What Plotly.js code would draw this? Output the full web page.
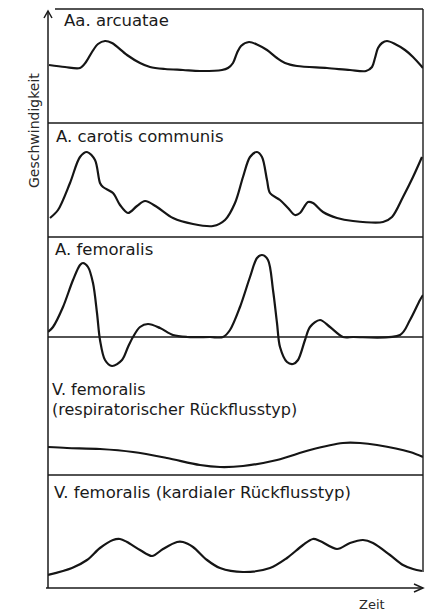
<!DOCTYPE html>
<html>
<head>
<meta charset="utf-8">
<script src="https://cdn.plot.ly/plotly-3.0.1.min.js"></script>
<style>html,body{margin:0;padding:0;background:#fff;}#chart{width:427px;height:612px;}</style>
</head>
<body>
<div id="chart"></div>
<script>
// Panel titles and axis labels
const panelTitles = ["Aa. arcuatae", "A. carotis communis", "A. femoralis", "V. femoralis", "(respiratorischer Rückflusstyp)", "V. femoralis (kardialer Rückflusstyp)"];
const yLabel = "Geschwindigkeit";
const xLabel = "Zeit";

// Aa. arcuatae (time, velocity in arbitrary units)
const arcT = [1,17,32,38,44,50,57,64,79,92,102,117,135,152,174,180,185,189,193,201,210,219,229,237,249,279,302,318,324,327,330,334,339,347,357,365,375];
const arcV = [58,56,55,61,71,79,82,80,68,60,56,54,53,52,53,55,60,70,77,81,78,73,65,60,57,55,53,52,56,65,75,80,82,79,73,66,55];

// A. carotis communis
const carT = [2,10,22,32,39,47,52,55,65,72,80,89,97,109,125,145,165,177,187,195,202,209,214,219,222,232,240,247,252,260,265,275,289,305,335,344,355,365,374];
const carV = [19,27,54,80,85,77,54,50,44,32,24,31,36,30,19,13,11,17,34,60,80,85,80,57,44,37,29,22,24,35,34,25,19,16,15,20,40,60,80];

// A. femoralis (velocity relative to zero line, negative = backflow)
const femT = [0,5,15,25,32,35,40,45,49,52,57,64,74,80,85,92,100,112,125,139,162,175,182,192,202,209,214,220,225,229,232,239,245,250,257,262,272,282,295,305,352,362,372,375];
const femV = [5,10,30,57,72,74,70,54,24,-3,-23,-29,-23,-10,0,10,13,9,2,0,0,0,7,30,60,79,82,77,47,14,-10,-25,-27,-23,-3,10,17,10,0,0,2,17,37,42];

// V. femoralis (respiratorischer Rückflusstyp)
const vResT = [0,19,52,85,119,152,172,195,229,262,295,312,329,362,375];
const vResV = [28,27,26,23,17,10,8,9,15,25,32,32,30,23,18];

// V. femoralis (kardialer Rückflusstyp)
const vKarT = [0,24,39,52,65,72,79,92,104,115,129,135,145,159,172,195,222,239,255,265,272,289,302,315,325,342,355,365,374];
const vKarV = [13,20,28,40,48,49,46,38,32,39,46,46,41,28,20,16,20,30,43,49,47,39,45,48,45,33,23,19,17];

const lineStyle = {color: "#151515", width: 2.2, shape: "spline", smoothing: 0.9};
function tr(x, y, ax) {
  return {x: x, y: y, xaxis: "x", yaxis: ax, mode: "lines", line: lineStyle, hoverinfo: "skip", showlegend: false};
}
const data = [
  tr(arcT, arcV, "y5"),
  tr(carT, carV, "y4"),
  tr(femT, femV, "y3"),
  tr(vResT, vResV, "y2"),
  tr(vKarT, vKarV, "y")
];

const H = 579, W = 375;
const py = p => (588 - p) / H;      // pixel row -> paper y
const pxp = p => (p - 48) / W;      // pixel col -> paper x
const hid = {visible: false, showgrid: false, zeroline: false, fixedrange: true};
const frame = {color: "#1a1a1a", width: 1.5};
function hline(y, x0, x1, w) {
  return {type: "line", xref: "paper", yref: "paper", x0: x0, x1: x1, y0: y, y1: y, line: {color: "#1a1a1a", width: w || 1.3}};
}
const shapes = [
  {type: "line", xref: "paper", yref: "paper", x0: 0, x1: 0, y0: 0, y1: py(11), line: frame},
  {type: "path", xref: "paper", yref: "paper", path: `M ${pxp(44)},${py(18)} L 0,${py(11)} L ${pxp(52)},${py(18)}`, line: frame},
  hline(1, pxp(55), 1, 1.4),
  {type: "line", xref: "paper", yref: "paper", x0: 1, x1: 1, y0: py(572), y1: 1, line: {color: "#1a1a1a", width: 1.4}},
  hline(py(123), 0, 1),
  hline(py(237), 0, 1),
  hline(py(337), 0, 1),
  hline(py(475), 0, 1),
  hline(0, pxp(46), 1, 1.5),
  {type: "path", xref: "paper", yref: "paper", path: `M ${pxp(414)},${py(584)} L 1,${py(588)} L ${pxp(414)},${py(592)}`, line: frame}
];

const tf = {family: "DejaVu Sans", size: 16.5, color: "#1a1a1a"};
function title(text, x, yc, size) {
  const f = Object.assign({}, tf);
  if (size) f.size = size;
  return {text: text, xref: "paper", yref: "paper", x: pxp(x), y: py(yc), xanchor: "left", yanchor: "middle", showarrow: false, font: f, borderpad: 0};
}
const annotations = [
  title(panelTitles[0], 63, 21),
  title(panelTitles[1], 55, 136.5),
  title(panelTitles[2], 54, 249),
  title(panelTitles[3], 51, 389.5, 16),
  title(panelTitles[4], 51, 410, 16),
  title(panelTitles[5], 53, 492),
  {text: yLabel, xref: "paper", yref: "paper", x: pxp(34), y: py(131), xanchor: "center", yanchor: "middle", textangle: -90, showarrow: false, font: {family: "DejaVu Sans", size: 14, color: "#2a2a2a"}},
  {text: xLabel, xref: "paper", yref: "paper", x: pxp(371.5), y: py(604), xanchor: "center", yanchor: "middle", showarrow: false, font: {family: "DejaVu Sans", size: 13, color: "#2a2a2a"}}
];

const layout = {
  width: 427, height: 612,
  margin: {l: 48, r: 4, t: 9, b: 24, pad: 0},
  paper_bgcolor: "#ffffff", plot_bgcolor: "#ffffff",
  showlegend: false,
  xaxis: Object.assign({range: [0, 375]}, hid),
  yaxis: Object.assign({domain: [0, py(475)], range: [0, 113]}, hid),
  yaxis2: Object.assign({domain: [py(475), py(380)], range: [0, 95]}, hid),
  yaxis3: Object.assign({domain: [py(380), py(237)], range: [-43, 100]}, hid),
  yaxis4: Object.assign({domain: [py(237), py(123)], range: [0, 114]}, hid),
  yaxis5: Object.assign({domain: [py(123), 1], range: [0, 114]}, hid),
  shapes: shapes,
  annotations: annotations
};

Plotly.newPlot("chart", data, layout, {staticPlot: true, displayModeBar: false});
</script>
</body>
</html>
